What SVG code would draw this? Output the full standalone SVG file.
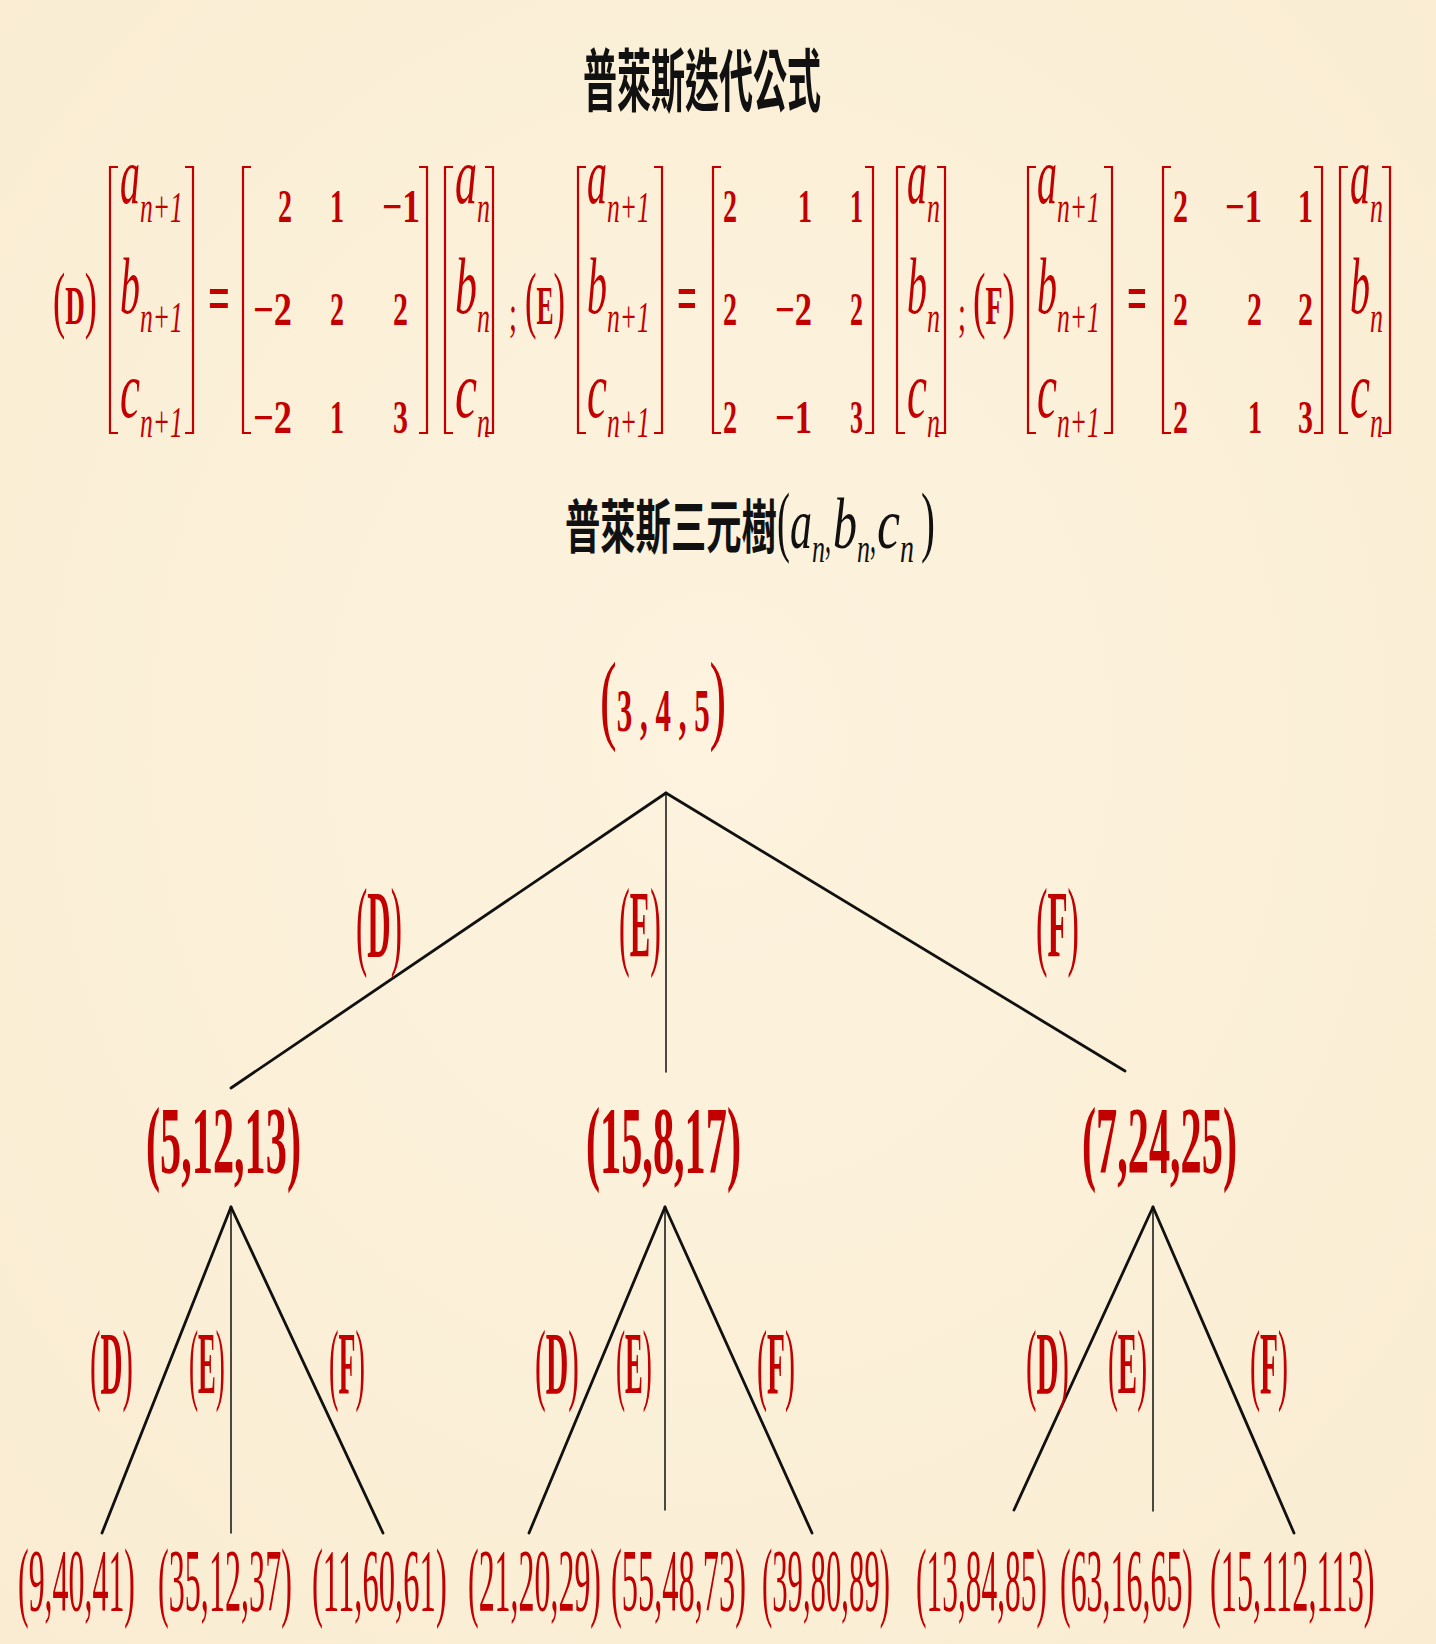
<svg xmlns="http://www.w3.org/2000/svg" width="1436" height="1644" viewBox="0 0 1436 1644">
<defs>
<style>
.r{fill:#c20000;font-family:"Liberation Serif",serif;}
.bd{font-weight:bold;}
.it{font-style:italic;}
.m{font-size:80px;font-style:italic;}
.s{font-size:44px;font-style:italic;}
.d{font-size:46px;font-weight:bold;}
.k{fill:#111;font-family:"Noto Sans CJK TC","Noto Sans CJK SC",sans-serif;font-weight:bold;}
.kb{fill:#111;font-family:"Liberation Serif",serif;}
.br{stroke:#c20000;stroke-width:2.2;fill:none;}
.ln{stroke:#111;fill:none;stroke-linecap:round;}
.thick{stroke-width:2.8;}
.thin{stroke-width:1.5;}
.lf{font-size:89px;}
.l1{font-size:95px;font-weight:bold;}
</style>
<radialGradient id="bg" cx="50%" cy="45%" r="75%">
<stop offset="0" stop-color="#fdf3de"/>
<stop offset="1" stop-color="#f9ecd2"/>
</radialGradient>
</defs>
<rect width="1436" height="1644" fill="url(#bg)"/>

<g id="title1">
<text class="k" font-size="68" transform="translate(583,106) scale(0.5,1)">普萊斯迭代公式</text>
</g>

<g id="eqD">
<text class="r" transform="translate(53,324) scale(0.495,1)"><tspan font-size="74">(</tspan><tspan class="bd" font-size="55">D</tspan><tspan font-size="74">)</tspan></text>
<path class="br" d="M118 167H110V433H118M185 167H193V433H185"/>
<text class="r m" transform="translate(120,203) scale(0.5,1)">a</text>
<text class="r s" transform="translate(140,222) scale(0.583,1)">n+1</text>
<text class="r m" transform="translate(120,313) scale(0.5,1)">b</text>
<text class="r s" transform="translate(140,332) scale(0.583,1)">n+1</text>
<text class="r m" transform="translate(120,417) scale(0.563,1)">c</text>
<text class="r s" transform="translate(140,437) scale(0.583,1)">n+1</text>
<text class="r bd" font-size="70" transform="translate(208,322) scale(0.55,1)">=</text>
<path class="br" d="M251 167H243V433H251M419 167H427V433H419"/>
<text class="r d" transform="translate(278,222) scale(0.61,1)">2</text>
<text class="r d" transform="translate(330,222) scale(0.61,1)">1</text>
<text class="r d" transform="translate(382,222) scale(0.77,1)">−1</text>
<text class="r d" transform="translate(253,325) scale(0.79,1)">−2</text>
<text class="r d" transform="translate(330,325) scale(0.61,1)">2</text>
<text class="r d" transform="translate(393,325) scale(0.65,1)">2</text>
<text class="r d" transform="translate(253,433) scale(0.79,1)">−2</text>
<text class="r d" transform="translate(330,433) scale(0.61,1)">1</text>
<text class="r d" transform="translate(393,433) scale(0.65,1)">3</text>
<path class="br" d="M453 167H445V433H453M485 167H493V433H485"/>
<text class="r m" transform="translate(455,203) scale(0.55,1)">a</text>
<text class="r s" transform="translate(477,222) scale(0.59,1)">n</text>
<text class="r m" transform="translate(455,313) scale(0.55,1)">b</text>
<text class="r s" transform="translate(477,332) scale(0.59,1)">n</text>
<text class="r m" transform="translate(455,417) scale(0.62,1)">c</text>
<text class="r s" transform="translate(477,437) scale(0.59,1)">n</text>
<text class="r" font-size="50" transform="translate(509,330) scale(0.575,1)">;</text>
</g>

<g id="eqE">
<text class="r" transform="translate(525,324) scale(0.466,1)"><tspan font-size="74">(</tspan><tspan class="bd" font-size="55">E</tspan><tspan font-size="74">)</tspan></text>
<path class="br" d="M586 167H578V433H586M654 167H662V433H654"/>
<text class="r m" transform="translate(587,203) scale(0.5,1)">a</text>
<text class="r s" transform="translate(607,222) scale(0.583,1)">n+1</text>
<text class="r m" transform="translate(587,313) scale(0.5,1)">b</text>
<text class="r s" transform="translate(607,332) scale(0.583,1)">n+1</text>
<text class="r m" transform="translate(587,417) scale(0.563,1)">c</text>
<text class="r s" transform="translate(607,437) scale(0.583,1)">n+1</text>
<text class="r bd" font-size="70" transform="translate(677,322) scale(0.5,1)">=</text>
<path class="br" d="M721 167H713V433H721M865 167H873V433H865"/>
<text class="r d" transform="translate(723,222) scale(0.61,1)">2</text>
<text class="r d" transform="translate(798,222) scale(0.61,1)">1</text>
<text class="r d" transform="translate(850,222) scale(0.565,1)">1</text>
<text class="r d" transform="translate(723,325) scale(0.61,1)">2</text>
<text class="r d" transform="translate(775,325) scale(0.75,1)">−2</text>
<text class="r d" transform="translate(850,325) scale(0.565,1)">2</text>
<text class="r d" transform="translate(723,433) scale(0.61,1)">2</text>
<text class="r d" transform="translate(775,433) scale(0.75,1)">−1</text>
<text class="r d" transform="translate(850,433) scale(0.565,1)">3</text>
<path class="br" d="M905 167H897V433H905M937 167H945V433H937"/>
<text class="r m" transform="translate(907,203) scale(0.5,1)">a</text>
<text class="r s" transform="translate(927,222) scale(0.59,1)">n</text>
<text class="r m" transform="translate(907,313) scale(0.5,1)">b</text>
<text class="r s" transform="translate(927,332) scale(0.59,1)">n</text>
<text class="r m" transform="translate(907,417) scale(0.563,1)">c</text>
<text class="r s" transform="translate(927,437) scale(0.59,1)">n</text>
<text class="r" font-size="50" transform="translate(958,330) scale(0.575,1)">;</text>
</g>

<g id="eqF">
<text class="r" transform="translate(973,324) scale(0.507,1)"><tspan font-size="74">(</tspan><tspan class="bd" font-size="55">F</tspan><tspan font-size="74">)</tspan></text>
<path class="br" d="M1036 167H1028V433H1036M1104 167H1112V433H1104"/>
<text class="r m" transform="translate(1037,203) scale(0.5,1)">a</text>
<text class="r s" transform="translate(1057,222) scale(0.583,1)">n+1</text>
<text class="r m" transform="translate(1037,313) scale(0.5,1)">b</text>
<text class="r s" transform="translate(1057,332) scale(0.583,1)">n+1</text>
<text class="r m" transform="translate(1037,417) scale(0.563,1)">c</text>
<text class="r s" transform="translate(1057,437) scale(0.583,1)">n+1</text>
<text class="r bd" font-size="70" transform="translate(1127,322) scale(0.5,1)">=</text>
<path class="br" d="M1171 167H1163V433H1171M1314 167H1322V433H1314"/>
<text class="r d" transform="translate(1173,222) scale(0.65,1)">2</text>
<text class="r d" transform="translate(1225,222) scale(0.75,1)">−1</text>
<text class="r d" transform="translate(1298,222) scale(0.65,1)">1</text>
<text class="r d" transform="translate(1173,325) scale(0.65,1)">2</text>
<text class="r d" transform="translate(1247,325) scale(0.65,1)">2</text>
<text class="r d" transform="translate(1298,325) scale(0.65,1)">2</text>
<text class="r d" transform="translate(1173,433) scale(0.65,1)">2</text>
<text class="r d" transform="translate(1248,433) scale(0.61,1)">1</text>
<text class="r d" transform="translate(1298,433) scale(0.65,1)">3</text>
<path class="br" d="M1348 167H1340V433H1348M1382 167H1390V433H1382"/>
<text class="r m" transform="translate(1350,203) scale(0.5,1)">a</text>
<text class="r s" transform="translate(1370,222) scale(0.59,1)">n</text>
<text class="r m" transform="translate(1350,313) scale(0.5,1)">b</text>
<text class="r s" transform="translate(1370,332) scale(0.59,1)">n</text>
<text class="r m" transform="translate(1350,417) scale(0.563,1)">c</text>
<text class="r s" transform="translate(1370,437) scale(0.59,1)">n</text>
</g>

<g id="title2">
<text class="k" font-size="58" transform="translate(565,548) scale(0.609,1)">普萊斯三元樹</text>
<text class="kb" font-size="79" transform="translate(777,547) scale(0.494,1)">(</text>
<text class="kb it" font-size="72" transform="translate(790,548) scale(0.611,1)">a</text>
<text class="kb it" font-size="40" transform="translate(812,562) scale(0.65,1)">n</text>
<text class="kb" font-size="50" transform="translate(825,552) scale(0.48,1)">,</text>
<text class="kb it" font-size="72" transform="translate(833,548) scale(0.667,1)">b</text>
<text class="kb it" font-size="40" transform="translate(857,562) scale(0.65,1)">n</text>
<text class="kb" font-size="50" transform="translate(870,552) scale(0.48,1)">,</text>
<text class="kb it" font-size="72" transform="translate(877,548) scale(0.72,1)">c</text>
<text class="kb it" font-size="40" transform="translate(900,562) scale(0.7,1)">n</text>
<text class="kb" font-size="79" transform="translate(921,547) scale(0.532,1)">)</text>
</g>

<g id="connectors">
<line class="ln thick" x1="666" y1="793" x2="231" y2="1088"/>
<line class="ln thin" x1="666" y1="793" x2="666" y2="1072"/>
<line class="ln thick" x1="666" y1="793" x2="1125" y2="1071"/>
<line class="ln thick" x1="231" y1="1207" x2="102" y2="1533"/>
<line class="ln thin" x1="231" y1="1207" x2="231" y2="1533"/>
<line class="ln thick" x1="231" y1="1207" x2="383" y2="1533"/>
<line class="ln thick" x1="665" y1="1207" x2="529" y2="1533"/>
<line class="ln thin" x1="665" y1="1207" x2="665" y2="1510"/>
<line class="ln thick" x1="665" y1="1207" x2="812" y2="1533"/>
<line class="ln thick" x1="1153" y1="1207" x2="1014" y2="1510"/>
<line class="ln thin" x1="1153" y1="1207" x2="1153" y2="1511"/>
<line class="ln thick" x1="1153" y1="1207" x2="1294" y2="1533"/>
</g>

<g id="labels1">
<text class="r" transform="translate(356,957) scale(0.338,1)"><tspan font-size="100">(</tspan><tspan class="bd" font-size="96">D</tspan><tspan font-size="100">)</tspan></text>
<text class="r" transform="translate(619,957) scale(0.32,1)"><tspan font-size="100">(</tspan><tspan class="bd" font-size="96">E</tspan><tspan font-size="100">)</tspan></text>
<text class="r" transform="translate(1036,957) scale(0.343,1)"><tspan font-size="100">(</tspan><tspan class="bd" font-size="96">F</tspan><tspan font-size="100">)</tspan></text>
</g>
<g id="labels2">
<text class="r" transform="translate(90,1393) scale(0.348,1)"><tspan font-size="90">(</tspan><tspan class="bd" font-size="88">D</tspan><tspan font-size="90">)</tspan></text>
<text class="r" transform="translate(189,1393) scale(0.303,1)"><tspan font-size="90">(</tspan><tspan class="bd" font-size="88">E</tspan><tspan font-size="90">)</tspan></text>
<text class="r" transform="translate(329,1393) scale(0.316,1)"><tspan font-size="90">(</tspan><tspan class="bd" font-size="88">F</tspan><tspan font-size="90">)</tspan></text>
<text class="r" transform="translate(535,1393) scale(0.356,1)"><tspan font-size="90">(</tspan><tspan class="bd" font-size="88">D</tspan><tspan font-size="90">)</tspan></text>
<text class="r" transform="translate(616,1393) scale(0.303,1)"><tspan font-size="90">(</tspan><tspan class="bd" font-size="88">E</tspan><tspan font-size="90">)</tspan></text>
<text class="r" transform="translate(757,1393) scale(0.334,1)"><tspan font-size="90">(</tspan><tspan class="bd" font-size="88">F</tspan><tspan font-size="90">)</tspan></text>
<text class="r" transform="translate(1026,1393) scale(0.348,1)"><tspan font-size="90">(</tspan><tspan class="bd" font-size="88">D</tspan><tspan font-size="90">)</tspan></text>
<text class="r" transform="translate(1108,1393) scale(0.329,1)"><tspan font-size="90">(</tspan><tspan class="bd" font-size="88">E</tspan><tspan font-size="90">)</tspan></text>
<text class="r" transform="translate(1250,1393) scale(0.334,1)"><tspan font-size="90">(</tspan><tspan class="bd" font-size="88">F</tspan><tspan font-size="90">)</tspan></text>
</g>

<g id="n345">
<text class="r" transform="translate(600,731) scale(0.5,1)"><tspan font-size="100">(</tspan><tspan font-size="62" font-weight="bold">3 , 4 , 5</tspan><tspan font-size="100">)</tspan></text>
</g>
<g id="n51213"><text class="r l1" transform="translate(146,1173) scale(0.445,1)">(5,12,13)</text></g>
<g id="n15817"><text class="r l1" transform="translate(586,1173) scale(0.445,1)">(15,8,17)</text></g>
<g id="n72425"><text class="r l1" transform="translate(1082,1173) scale(0.445,1)">(7,24,25)</text></g>

<g id="n94041"><text class="r lf" transform="translate(18,1610) scale(0.3586,1)">(9,40,41)</text></g>
<g id="n351237"><text class="r lf" transform="translate(158,1610) scale(0.3614,1)">(35,12,37)</text></g>
<g id="n116061"><text class="r lf" transform="translate(312,1610) scale(0.3668,1)">(11,60,61)</text></g>
<g id="n212029"><text class="r lf" transform="translate(468,1610) scale(0.3587,1)">(21,20,29)</text></g>
<g id="n554873"><text class="r lf" transform="translate(611,1610) scale(0.3641,1)">(55,48,73)</text></g>
<g id="n398089"><text class="r lf" transform="translate(762,1610) scale(0.3452,1)">(39,80,89)</text></g>
<g id="n138485"><text class="r lf" transform="translate(916,1610) scale(0.3533,1)">(13,84,85)</text></g>
<g id="n631665"><text class="r lf" transform="translate(1060,1610) scale(0.3587,1)">(63,16,65)</text></g>
<g id="n15112113"><text class="r lf" transform="translate(1210,1610) scale(0.3632,1)">(15,112,113)</text></g>
</svg>
